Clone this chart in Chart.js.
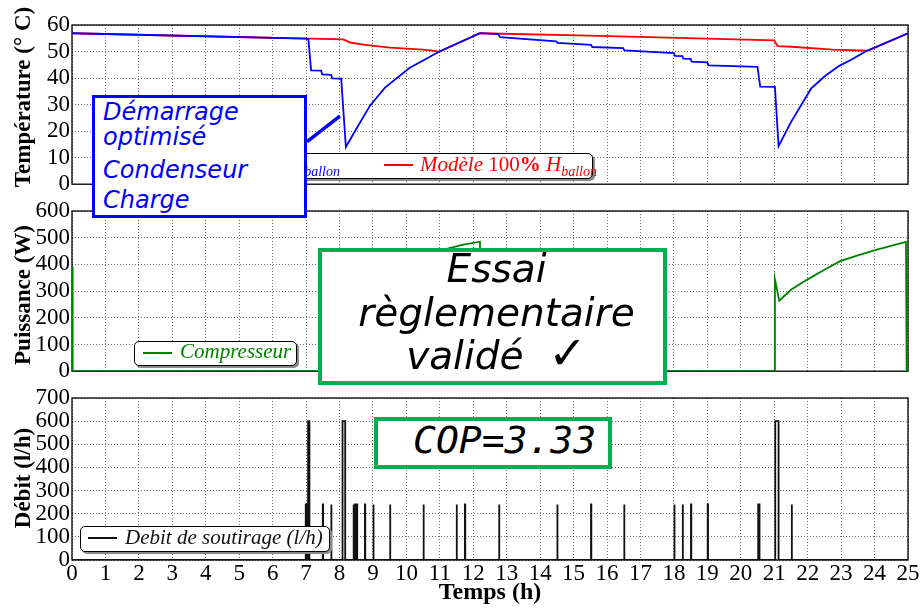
<!DOCTYPE html>
<html lang="fr">
<head>
<meta charset="utf-8">
<title>Essai PAC - température, puissance, débit</title>
<script src="https://cdn.jsdelivr.net/npm/chart.js@4.4.0/dist/chart.umd.min.js"></script>
<style>
  html, body { margin: 0; padding: 0; background: #fff; }
  #page { position: relative; width: 924px; height: 609px; overflow: hidden; }
  canvas.panel { position: absolute; left: 0; z-index: 1; }

  .ytitle, .xtitle {
    position: absolute; z-index: 2; white-space: nowrap;
    font: bold 23px 'Liberation Serif', 'Times New Roman', serif; color: #000;
  }
  .ytitle { transform: translate(-50%, -50%) rotate(-90deg); line-height: 24px; }
  .xtitle { font-size: 24px; line-height: 24px; transform: translateX(-50%); }

  /* legends: rounded frame with a flat shadow */
  .legend {
    position: absolute; z-index: 3; box-sizing: border-box;
    background: #fff; border: 1.3px solid #000; border-radius: 5px;
    box-shadow: 2px 2px 0 #8a8a8a;
    font: italic 21px 'Liberation Serif', 'Times New Roman', serif;
  }
  .legend .lline { position: absolute; width: 29px; height: 2px; }
  .legend .ltext { position: absolute; white-space: nowrap; line-height: 26px; }
  .legend .up { font-style: normal; }
  .legend sub { font-size: 14px; vertical-align: -5px; line-height: 0; }

  /* framed notes */
  .note { position: absolute; z-index: 4; box-sizing: border-box; background: #fff; }
  .note .line { position: absolute; white-space: nowrap; }
  #note-demarrage {
    left: 92px; top: 95px; width: 215px; height: 123px; border: 3px solid #0000ff;
    color: #0000ff; font: oblique 24px 'DejaVu Sans', sans-serif;
  }
  #note-demarrage .line { left: 8px; line-height: 28px; }
  #note-essai {
    left: 318px; top: 248px; width: 349px; height: 137px; border: 4px solid #00b050;
    color: #000; font: oblique 39px 'DejaVu Sans', sans-serif;
  }
  #note-essai .line { left: 0; width: 100%; padding-left: 8px; box-sizing: border-box; text-align: center; line-height: 44px; }
  #note-essai .check { font-size: 46px; }
  #note-cop {
    left: 374px; top: 417px; width: 238px; height: 52px; border: 4px solid #00b050;
    color: #000; font: oblique 38px 'DejaVu Sans Mono', monospace;
  }
  #note-cop .line { left: 35px; top: -3px; line-height: 44px; }
</style>
</head>
<body>
<div id="page">
  <canvas id="chart-temp"  class="panel" width="924" height="200" style="top:0"></canvas>
  <canvas id="chart-puiss" class="panel" width="924" height="197" style="top:190px"></canvas>
  <canvas id="chart-debit" class="panel" width="924" height="229" style="top:380px"></canvas>

  <div class="ytitle" style="left:23px; top:97px">Température (° C)</div>
  <div class="ytitle" style="left:23px; top:295px">Puissance (W)</div>
  <div class="ytitle" style="left:23px; top:478px">Débit (l/h)</div>
  <div class="xtitle" style="left:490px; top:579px">Temps (h)</div>

  <div class="legend" style="left:150px; top:153px; width:443px; height:26px">
    <span class="lline" style="left:12px; top:10px; background:#0000ff"></span>
    <span class="ltext" style="right:252px; top:-3px; color:#0000ff">Essai <span class="up">100<b>%</b></span> H<sub>ballon</sub></span>
    <span class="lline" style="left:233px; top:10px; background:#ff0000"></span>
    <span class="ltext" style="left:269px; top:-3px; color:#ff0000">Modèle <span class="up">100<b>%</b></span> H<sub>ballon</sub></span>
  </div>
  <div class="legend" style="left:134px; top:341px; width:163px; height:25px">
    <span class="lline" style="left:8px; top:10px; background:#008000"></span>
    <span class="ltext" style="left:45px; top:-4px; color:#008000">Compresseur</span>
  </div>
  <div class="legend" style="left:80px; top:526px; width:250px; height:26px">
    <span class="lline" style="left:7px; top:10px; background:#111"></span>
    <span class="ltext" style="left:44px; top:-3px; color:#111">Debit de soutirage (l/h)</span>
  </div>

  <div class="note" id="note-demarrage">
    <div class="line" style="top:0">Démarrage</div>
    <div class="line" style="top:25px">optimisé</div>
    <div class="line" style="top:58px">Condenseur</div>
    <div class="line" style="top:88px">Charge</div>
  </div>
  <div class="note" id="note-essai">
    <div class="line" style="top:-5px">Essai</div>
    <div class="line" style="top:39px">règlementaire</div>
    <div class="line" style="top:79px">validé&nbsp;&nbsp;<span class="check">✓</span></div>
  </div>
  <div class="note" id="note-cop">
    <div class="line">COP=3.33</div>
  </div>
</div>

<script>
// ── Data (temps en heures) ───────────────────────────────

// Température ballon mesurée pendant l'essai (°C)
const essaiTime = [0, 7.0, 7.07, 7.15, 7.45, 7.48, 7.75, 7.78, 8.05, 8.19, 8.5, 8.91, 9.36, 10.1, 10.5, 11.0,
                   12.2, 12.75, 12.8, 14.48, 14.52, 15.52, 15.56, 16.48, 16.52, 18.0, 18.03, 18.25, 18.28,
                   18.5, 18.53, 19.0, 19.03, 20.5, 20.58, 21.02, 21.13, 21.5, 22.1, 22.5, 22.93, 23.3, 23.77, 25.0];
const essaiTemp = [56.9, 54.9, 54.6, 42.9, 42.8, 41.4, 41.2, 39.9, 39.8, 14.0, 20.8, 29.6, 36.4, 43.9, 46.6, 50.1,
                   56.9, 56.6, 55.4, 53.8, 53.3, 52.5, 51.7, 51.3, 50.4, 49.4, 48.4, 48.3, 47.3,
                   47.2, 46.2, 45.9, 44.8, 44.2, 36.8, 36.7, 14.3, 23.4, 36.0, 40.6, 44.5, 46.9, 50.3, 56.9];

// Température ballon du modèle (°C)
const modeleTime = [0, 8.1, 8.16, 8.31, 8.76, 9.51, 10.5, 11.0, 12.2, 15.8, 21.0, 21.1, 21.5, 22.76, 23.8, 25.0];
const modeleTemp = [56.9, 54.6, 54.3, 53.4, 52.5, 51.5, 50.7, 50.0, 56.9, 55.9, 54.2, 52.0, 51.8, 50.7, 50.3, 56.9];

// Renvoi de la note "Démarrage optimisé"
const renvoiTime = [7.03, 8.01];
const renvoiTemp = [16.0, 25.7];

// Puissance électrique compresseur (W)
const puissTime = [0, 0.02, 8.06, 8.08, 8.2, 9.0, 10.0, 11.0, 11.7, 12.2, 12.22,
                   21.0, 21.02, 21.15, 21.5, 22.0, 22.5, 22.97, 23.5, 24.07, 24.94, 24.96, 25.0];
const puissVal  = [390, 0, 0, 345, 262, 345, 410, 452, 474, 485, 0,
                   0, 344, 264, 305, 344, 380, 412, 434, 455, 484, 0, 0];

// Soutirages : début (h), durée (h), débit (l/h)
const debitStart  = [6.99, 7.06, 7.5, 7.75, 8.09, 8.41, 8.46, 8.51, 8.76, 9.01, 9.51, 10.51, 11.5,
                     11.75, 12.77, 14.51, 15.52, 16.51, 18.01, 18.26, 18.51, 19.01, 20.52, 21.03, 21.52];
const debitDuree  = [0.03, 0.04, 0.01, 0.01, 0.08, 0.02, 0.02, 0.02, 0.01, 0.01, 0.01, 0.01, 0.01,
                     0.01, 0.01, 0.01, 0.01, 0.01, 0.01, 0.01, 0.01, 0.01, 0.04, 0.1, 0.01];
const debitValeur = [240, 600, 240, 240, 600, 240, 240, 240, 240, 240, 240, 240, 240,
                     240, 240, 240, 240, 240, 240, 240, 240, 240, 240, 600, 240];

// ── Helpers ──────────────────────────────────────────────

const toPoints = (xs, ys) => xs.map((x, i) => ({ x, y: ys[i] }));

// each draw-off becomes a rectangular pulse
function pulsePoints(starts, durations, values) {
  const pts = [{ x: 0, y: 0 }];
  starts.forEach((t, i) => {
    const t2 = t + durations[i];
    pts.push({ x: t, y: 0 }, { x: t, y: values[i] }, { x: t2, y: values[i] }, { x: t2, y: 0 });
  });
  pts.push({ x: 25, y: 0 });
  return pts;
}

// solid frame around the plot area (grid lines stay dotted)
const framePlugin = {
  id: 'frame',
  beforeDatasetsDraw(chart) {
    const { ctx, chartArea: a } = chart;
    ctx.save();
    ctx.strokeStyle = '#000';
    ctx.lineWidth = 1.3;
    ctx.strokeRect(a.left, a.top, a.right - a.left, a.bottom - a.top);
    ctx.restore();
  },
};

Chart.defaults.font.family = "'Liberation Serif', 'Times New Roman', serif";
Chart.defaults.color = '#000';

const TICK_FONT = { size: 23 };
const GRID   = { color: '#6e6e6e', lineWidth: 1, drawTicks: false };
const BORDER = { display: false, dash: [1, 2] };

function panelOptions(yMax, yStep, padTop, padBottom, showX) {
  return {
    responsive: false,
    animation: false,
    events: [],
    layout: { padding: { top: padTop, right: 16, bottom: padBottom, left: 0 } },
    plugins: { legend: { display: false }, tooltip: { enabled: false } },
    elements: { point: { radius: 0 }, line: { tension: 0, borderWidth: 1.8 } },
    scales: {
      x: {
        type: 'linear', min: 0, max: 25,
        ticks: { stepSize: 1, display: showX, font: TICK_FONT, padding: 0, maxRotation: 0, autoSkip: false },
        grid: GRID, border: BORDER,
        afterFit: s => { s.height = showX ? 49 : 0; },
      },
      y: {
        min: 0, max: yMax,
        ticks: { stepSize: yStep, font: TICK_FONT, padding: 2, autoSkip: false },
        grid: GRID, border: BORDER,
        afterFit: s => { s.width = 72; },
      },
    },
  };
}

// ── Température ──────────────────────────────────────────

new Chart(document.getElementById('chart-temp'), {
  type: 'line',
  data: {
    datasets: [
      { data: toPoints(essaiTime, essaiTemp),   borderColor: '#0000ff' },
      { data: toPoints(modeleTime, modeleTemp), borderColor: '#ff0000' },
      { data: toPoints(renvoiTime, renvoiTemp), borderColor: '#0000ff', borderWidth: 3.5 },
    ],
  },
  options: panelOptions(60, 10, 25, 14, false),
  plugins: [framePlugin],
});

// ── Puissance ────────────────────────────────────────────

new Chart(document.getElementById('chart-puiss'), {
  type: 'line',
  data: {
    datasets: [
      { data: toPoints(puissTime, puissVal), borderColor: '#008000' },
    ],
  },
  options: panelOptions(600, 100, 21, 14, false),
  plugins: [framePlugin],
});

// ── Débit ────────────────────────────────────────────────

new Chart(document.getElementById('chart-debit'), {
  type: 'line',
  data: {
    datasets: [
      { data: pulsePoints(debitStart, debitDuree, debitValeur), borderColor: '#111' },
    ],
  },
  options: panelOptions(700, 100, 18, 0, true),
  plugins: [framePlugin],
});
</script>
</body>
</html>
